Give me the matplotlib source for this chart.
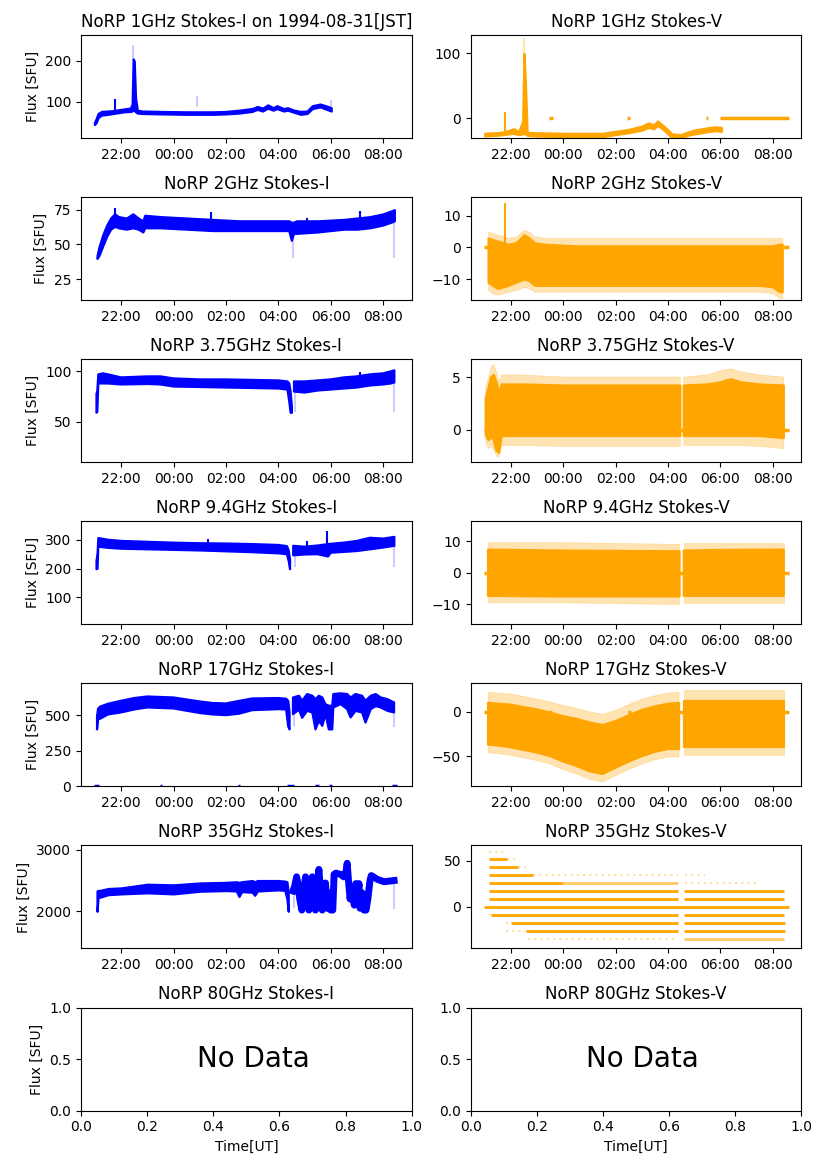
## NoRP quick-look: Stokes I / V for each frequency, 1994-08-31 [JST]

import numpy as np
import matplotlib
matplotlib.use('Agg')
import matplotlib.pyplot as plt
import matplotlib.dates as mdates

nan = np.nan

# ---- time axis: hours after 1994-08-30 00:00 UT ----
base = np.datetime64('1994-08-30T00:00:00')
xlim_h = [20.47, 33.09]

# ---- 1 GHz ----
t_i1  = [20.98, 21.05, 21.12, 21.25, 21.5, 21.7, 21.9, 22.1, 22.35, 22.42, 22.46, 22.5, 22.55, 22.62, 22.8,
         23.5, 24.5, 25.5, 26.0, 26.5, 27.0, 27.2, 27.4, 27.6, 27.8, 27.95, 28.2, 28.35, 28.6, 28.85,
         29.1, 29.3, 29.6, 29.85, 30.02]
lo_i1 = [45, 50, 62, 68, 70, 72, 74, 76, 77, 78, 80, 80, 76, 73, 72, 71, 70, 70, 71, 73, 77, 82, 78, 85, 80,
         84, 78, 80, 75, 70, 72, 84, 88, 82, 78]
hi_i1 = [50, 60, 72, 77, 78, 79, 81, 83, 85, 95, 205, 200, 110, 80, 78, 77, 76, 76, 77, 80, 84, 89, 85, 93, 86,
         91, 84, 86, 80, 77, 78, 91, 95, 90, 86]
sp_i1 = ([21.75], [75], [107])
fa_i1 = ([22.47, 24.9, 30.0], [200, 88, 86], [240, 115, 105])

t_v1  = [21.0, 21.5, 21.7, 21.9, 22.1, 22.3, 22.45, 22.5, 22.55, 22.62, 22.8, 24.0, 25.5, 26.0, 26.5, 27.0,
         27.25, 27.45, 27.6, 27.75, 27.95, 28.15, 28.5, 28.75, 29.0, 29.3, 29.6, 29.8, 30.04]
lo_v1 = [-27, -26, -25, -24, -23, -25, -24, -22, -24, -26, -27, -28, -28, -25, -22, -18, -14, -16, -11, -15,
         -22, -30, -30, -26, -24, -22, -20, -19, -20]
hi_v1 = [-23, -22, -21, -19, -16, -20, -5, 100, 60, -21, -22, -23, -23, -20, -17, -12, -7, -10, -4, -9,
         -16, -24, -25, -21, -18, -16, -14, -13, -14]
sp_v1 = ([21.78], [-20], [9])
fa_v1 = ([22.5], [100], [123])
z0_v1 = [23.47, 26.44, 29.45, 29.97]
z1_v1 = [23.60, 26.56, 29.52, 32.61]

# ---- 2 GHz ----
t_i2  = [21.08, 21.15, 21.3, 21.45, 21.6, 21.75, 21.9, 22.2, 22.45, 22.65, 22.83, 22.9, 23.5, 24.5, 25.5,
         26.5, 27.5, 28.4, 28.5, 28.58, 28.7, 29.5, 30.5, 31.0, 31.5, 32.0, 32.3, 32.43]
lo_i2 = [40, 42, 49, 56, 61, 63, 62, 61, 62, 61, 59, 62, 62, 61, 60, 60, 60, 60, 53, 58, 58, 59, 61, 61, 62,
         64, 66, 67]
hi_i2 = [42, 48, 57, 64, 69, 72, 70, 69, 72, 69, 67, 71, 70, 69, 68, 67, 67, 67, 66, 66, 67, 67, 68, 69, 70,
         72, 74, 75]
sp_i2 = ([21.75, 25.44, 29.1, 31.12], [66, 64, 62, 66], [76, 73, 69, 74])
fa_i2 = ([28.55, 32.42], [40, 40], [55, 67])

t_v2   = [21.13, 21.3, 21.5, 21.7, 21.9, 22.2, 22.5, 22.7, 22.9, 23.3, 24.5, 26.0, 28.0, 30.0, 31.5, 32.0,
          32.25, 32.36]
lo_v2  = [-11, -12, -13, -12.5, -12, -11, -10, -10.5, -12, -12, -12, -12, -12, -12, -12, -12.5, -14, -14]
hi_v2  = [3, 2.5, 2, 1.5, 1, 1.5, 4, 3, 1.5, 1, 0.5, 0.5, 0.5, 0.5, 0.5, 0.5, 1, 1]
olo_v2 = [-13.5, -14.5, -15, -14.5, -14, -13.5, -12.5, -13, -14, -14, -14, -14, -14, -14, -14, -14.5, -16, -16]
ohi_v2 = [5, 4.5, 4, 3.5, 3, 3.5, 5.5, 5, 3.5, 3, 3, 3, 3, 3, 3, 3, 3, 3]
sp_v2 = ([21.78], [-6], [14])

# ---- 3.75 GHz ----
t_i3  = [21.06, 21.09, 21.13, 21.3, 21.5, 22.0, 23.0, 23.5, 24.0, 25.0, 26.0, 27.0, 28.0, 28.35, 28.42,
         28.47, 28.52, 28.56, 28.6, 29.0, 29.5, 30.0, 30.5, 31.0, 31.5, 32.0, 32.3, 32.43]
lo_i3 = [59, 60, 88, 88, 88, 87, 87.5, 87, 85, 84.5, 84, 83.5, 83, 82, 70, 59, 59, nan, 80, 79, 81, 82, 83,
         84, 86, 87, 88, 89]
hi_i3 = [78, 80, 97, 98, 97, 94, 95, 95, 93, 92, 92, 91.5, 91, 90, 88, 80, 65, nan, 90, 90, 91, 92, 94, 95,
         97, 98, 100, 101]
sp_i3 = ([31.12], [88], [99])
fa_i3 = ([28.63, 32.43], [60, 60], [80, 88])

t_v3   = [21.04, 21.15, 21.25, 21.35, 21.45, 21.55, 21.65, 22.5, 24.0, 26.0, 28.0, 28.47, 28.53, 28.6, 29.5,
          30.0, 30.4, 30.8, 31.5, 32.42]
lo_v3  = [-0.5, -1.0, -0.7, -1.0, -2.0, -2.2, -0.6, -0.6, -0.6, -0.6, -0.6, -0.6, nan, -0.6, -0.6, -0.6,
          -0.6, -0.6, -0.6, -0.8]
hi_v3  = [3.0, 4.0, 5.0, 5.2, 4.5, 3.5, 4.3, 4.3, 4.2, 4.2, 4.2, 4.2, nan, 4.2, 4.3, 4.5, 4.8, 4.5, 4.3, 4.2]
olo_v3 = [-1.3, -1.8, -1.6, -1.9, -2.5, -2.6, -1.5, -1.5, -1.6, -1.6, -1.6, -1.6, nan, -1.5, -1.5, -1.5,
          -1.5, -1.5, -1.6, -1.8]
ohi_v3 = [4.0, 5.0, 6.0, 6.2, 5.5, 4.5, 5.2, 5.2, 5.0, 5.0, 5.0, 5.0, nan, 5.0, 5.2, 5.6, 5.8, 5.5, 5.2, 5.0]

# ---- 9.4 GHz ----
t_i4  = [21.06, 21.1, 21.13, 21.5, 22.0, 23.0, 24.0, 25.0, 26.0, 27.0, 28.0, 28.33, 28.4, 28.45, 28.51,
         28.57, 29.0, 29.5, 29.9, 30.0, 30.5, 31.0, 31.5, 32.0, 32.43]
lo_i4 = [198, 200, 276, 272, 269, 267, 265, 263, 260, 257, 253, 250, 225, 198, nan, 246, 249, 250, 242, 255,
         258, 261, 267, 273, 279]
hi_i4 = [227, 250, 306, 300, 296, 293, 290, 288, 287, 285, 282, 278, 262, 230, nan, 279, 276, 280, 285, 286,
         290, 296, 307, 304, 310]
sp_i4 = ([25.3, 29.1, 29.87], [280, 270, 280], [304, 296, 332])
fa_i4 = ([28.62, 32.43], [205, 205], [270, 280])

t_v4   = [21.13, 24.0, 28.0, 28.44, 28.52, 28.6, 30.0, 32.42]
lo_v4  = [-7.3, -7.5, -7.5, -7.5, nan, -7.3, -7.3, -7.3]
hi_v4  = [7.3, 7.0, 6.8, 6.8, nan, 7.0, 7.2, 7.3]
olo_v4 = [-9.5, -9.5, -10, -10, nan, -9.5, -9.5, -9.5]
ohi_v4 = [9.5, 9.5, 9.0, 9.0, nan, 9.5, 9.5, 9.5]

# ---- 17 GHz ----
t_i5  = [21.08, 21.12, 21.2, 21.5, 22.0, 22.5, 23.0, 24.0, 25.0, 25.5, 26.0, 26.5, 27.0, 28.0, 28.3, 28.38,
         28.43, 28.5, 28.56, 28.79, 28.91, 29.1, 29.3, 29.42, 29.55, 29.68, 29.8, 29.93, 30.06, 30.1, 30.38,
         30.63, 30.76, 30.95, 31.2, 31.33, 31.53, 31.72, 31.91, 32.17, 32.42]
lo_i5 = [400, 470, 475, 505, 519, 540, 554, 547, 515, 505, 500, 510, 535, 542, 540, 420, 400, nan, 507, 538,
         481, 530, 519, 400, 460, 425, 507, 400, 400, 554, 577, 542, 484, 530, 519, 448, 542, 563, 554, 530,
         519]
hi_i5 = [490, 545, 560, 580, 601, 620, 631, 624, 596, 585, 582, 600, 617, 620, 615, 600, 520, nan, 624, 636,
         601, 648, 636, 612, 636, 624, 577, 566, 566, 648, 653, 648, 624, 648, 636, 601, 636, 648, 624, 612,
         589]
fa_i5 = ([28.6, 32.43], [425, 420], [500, 520])
z0_i5 = [20.98, 23.47, 26.45, 28.34, 29.42, 29.93, 32.36]
z1_i5 = [21.17, 23.56, 26.53, 28.60, 29.55, 30.06, 32.55]

t_v5   = [21.13, 21.5, 22.0, 22.5, 23.0, 23.5, 24.0, 24.5, 25.0, 25.5, 26.0, 26.5, 27.0, 27.5, 28.0, 28.42,
          28.51, 28.6, 29.5, 30.5, 31.5, 32.42]
lo_v5  = [-37, -38, -40, -43, -46, -50, -56, -61, -67, -70, -63, -56, -50, -45, -42, -42, nan, -40, -40,
          -40, -40, -40]
hi_v5  = [10, 9, 8, 5, 2.6, -1, -5, -8, -12, -15, -10.5, -4, 2, 6, 9, 10, nan, 12, 12, 12, 12, 12]
olo_v5 = [-46, -47, -49, -52, -55, -59, -65, -70, -76, -79, -72, -65, -59, -54, -51, -51, nan, -49, -49,
          -49, -49, -49]
ohi_v5 = [22, 21, 20, 17, 14, 11, 7, 4, 0, -3, 1.5, 8, 14, 18, 21, 22, nan, 24, 24, 24, 24, 24]

# ---- 35 GHz ----
t_i6  = [21.08, 21.12, 21.2, 21.5, 22.0, 23.0, 24.0, 25.0, 26.0, 26.4, 26.5, 26.6, 27.0, 27.1, 27.2, 28.0,
         28.25, 28.33, 28.38]
lo_i6 = [2000, 2230, 2230, 2270, 2283, 2300, 2283, 2326, 2337, 2330, 2240, 2320, 2310, 2260, 2330, 2348,
         2340, 2200, 2000]
hi_i6 = [2330, 2340, 2340, 2370, 2380, 2440, 2430, 2460, 2470, 2480, 2470, 2480, 2500, 2480, 2500, 2500,
         2490, 2480, 2300]
# after the 04:30 break the trace swings quickly
tr_t6 = [28.56, 28.62, 28.7, 28.75, 28.82, 28.9, 28.96, 29.04, 29.1, 29.17, 29.24, 29.3, 29.36, 29.42, 29.48,
         29.55, 29.62, 29.68, 29.74, 29.8, 29.87, 29.93, 30.0, 30.08, 30.13, 30.2, 30.38, 30.5, 30.57, 30.63,
         30.68, 30.74, 30.82, 30.9, 30.96, 31.02, 31.08, 31.12, 31.2, 31.27, 31.35, 31.42, 31.5, 31.55, 31.78,
         32.04, 32.42]
tr_v6 = [2330, 2400, 2560, 2450, 2200, 2020, 2300, 2560, 2400, 2020, 2400, 2560, 2300, 2020, 2400, 2680,
         2300, 2020, 2400, 2460, 2050, 2300, 2020, 2020, 2600, 2620, 2600, 2560, 2600, 2780, 2500, 2200,
         2400, 2100, 2450, 2200, 2450, 2050, 2300, 2020, 2020, 2200, 2500, 2580, 2520, 2480, 2500]
fa_i6 = ([28.6, 32.43], [2050, 2040], [2250, 2450])

# 35 GHz Stokes-V is quantised: level, start, end, density (2 dense, 1 medium, 0 sparse)
lev_v6 = [59.8, 51.8, 51.8, 43.4, 43.4, 34.6, 34.6, 34.6, 25.9, 25.9, 25.9, 17.1, 17.1, 8.4, 8.4, 0.0,
          -9.1, -9.1, -9.1, -17.9, -17.9, -17.9, -26.6, -26.6, -26.6, -35.4, -35.4]
t0_v6  = [21.17, 21.17, 21.87, 21.17, 22.26, 21.17, 22.83, 28.63, 21.17, 24.0, 28.63, 21.17, 28.6, 21.17,
          28.6, 20.98, 21.17, 21.25, 28.6, 21.8, 22.0, 28.6, 21.8, 22.57, 28.6, 22.64, 28.6]
t1_v6  = [21.87, 21.87, 22.26, 22.26, 22.57, 22.83, 28.38, 29.4, 24.0, 28.38, 31.5, 28.38, 32.42, 28.38,
          32.42, 32.62, 21.25, 28.38, 32.42, 22.0, 28.38, 32.45, 22.57, 28.38, 32.45, 28.38, 32.42]
den_v6 = [0, 2, 0, 2, 0, 2, 0, 0, 2, 1, 0, 2, 2, 2, 2, 2, 0, 2, 2, 0, 2, 2, 0, 2, 2, 0, 1]

# zero-flag samples shared by the V channels
z0_v = [20.98, 23.47, 26.47, 28.42, 29.47, 32.38]
z1_v = [21.15, 23.58, 26.58, 28.60, 29.53, 32.62]

ylims_i = [(12, 263), (10, 84), (10, 112), (7, 364), (0, 723), (1396, 3070)]
ylims_v = [(-30.4, 128), (-16.7, 15.9), (-3.1, 6.7), (-16.3, 16.25), (-84, 31.9), (-45.6, 67)]
freqs = ['1GHz', '2GHz', '3.75GHz', '9.4GHz', '17GHz', '35GHz', '80GHz']


def hrs(h):
    return base + (np.asarray(h, dtype=float) * 3600).astype(np.int64).astype('timedelta64[s]')


def band(ax, t, lo, hi, c, a=1.0):
    # edge width stands in for the marker size of the raw samples
    ax.fill_between(hrs(t), np.array(lo, float), np.array(hi, float), color=c, alpha=a,
                    lw=1.6 if a == 1.0 else 0.5, ec=c)


def spikes(ax, s, c, a=1.0, lw=1.5):
    ax.vlines(hrs(s[0]), s[1], s[2], color=c, alpha=a, lw=lw)


def zeros(ax, t0, t1, c):
    ax.hlines(np.zeros(len(t0)), hrs(t0), hrs(t1), color=c, lw=2.5, zorder=1)


blue = 'blue'
orng = 'orange'

fig, axs = plt.subplots(7, 2, figsize=(8.27, 11.69), dpi=100)
plt.subplots_adjust(left=0.098, right=0.969, top=0.970, bottom=0.050, hspace=0.573, wspace=0.179)

# Stokes I
ax = axs[0, 0]
band(ax, t_i1, lo_i1, hi_i1, blue); spikes(ax, sp_i1, blue); spikes(ax, fa_i1, blue, 0.2)
ax = axs[1, 0]
band(ax, t_i2, lo_i2, hi_i2, blue); spikes(ax, sp_i2, blue); spikes(ax, fa_i2, blue, 0.2)
ax = axs[2, 0]
band(ax, t_i3, lo_i3, hi_i3, blue); spikes(ax, sp_i3, blue); spikes(ax, fa_i3, blue, 0.2)
ax = axs[3, 0]
band(ax, t_i4, lo_i4, hi_i4, blue); spikes(ax, sp_i4, blue); spikes(ax, fa_i4, blue, 0.2)
ax = axs[4, 0]
band(ax, t_i5, lo_i5, hi_i5, blue); spikes(ax, fa_i5, blue, 0.2); zeros(ax, z0_i5, z1_i5, blue)
ax = axs[5, 0]
band(ax, t_i6, lo_i6, hi_i6, blue); spikes(ax, fa_i6, blue, 0.2)
ax.plot(hrs(tr_t6), tr_v6, color=blue, lw=5, solid_joinstyle='round')

# Stokes V
ax = axs[0, 1]
band(ax, t_v1, lo_v1, hi_v1, orng); spikes(ax, sp_v1, orng); spikes(ax, fa_v1, orng, 0.3)
zeros(ax, z0_v1, z1_v1, orng)
ax = axs[1, 1]
zeros(ax, z0_v, z1_v, orng)
band(ax, t_v2, olo_v2, ohi_v2, orng, 0.3); band(ax, t_v2, lo_v2, hi_v2, orng); spikes(ax, sp_v2, orng)
ax = axs[2, 1]
zeros(ax, z0_v, z1_v, orng)
band(ax, t_v3, olo_v3, ohi_v3, orng, 0.3); band(ax, t_v3, lo_v3, hi_v3, orng)
ax = axs[3, 1]
zeros(ax, z0_v, z1_v, orng)
band(ax, t_v4, olo_v4, ohi_v4, orng, 0.3); band(ax, t_v4, lo_v4, hi_v4, orng)
ax = axs[4, 1]
zeros(ax, z0_v, z1_v, orng)
band(ax, t_v5, olo_v5, ohi_v5, orng, 0.3); band(ax, t_v5, lo_v5, hi_v5, orng)
ax = axs[5, 1]
for lv, a0, a1, d in zip(lev_v6, t0_v6, t1_v6, den_v6):
    if d == 2:
        ax.hlines(lv, hrs(a0), hrs(a1), color=orng, lw=2.0)
    elif d == 1:
        ax.hlines(lv, hrs(a0), hrs(a1), color=orng, lw=2.0, alpha=0.6)
    else:
        ax.hlines(lv, hrs(a0), hrs(a1), color=orng, lw=1.5, alpha=0.35, linestyles=(0, (1, 2)))

for i in range(6):
    for j in range(2):
        ax = axs[i, j]
        ax.set_xlim(hrs(xlim_h[0]), hrs(xlim_h[1]))
        ax.xaxis.set_major_locator(mdates.HourLocator(byhour=[0, 2, 4, 6, 8, 22]))
        ax.xaxis.set_major_formatter(mdates.DateFormatter('%H:%M'))
    axs[i, 0].set_ylim(ylims_i[i])
    axs[i, 1].set_ylim(ylims_v[i])
    axs[i, 0].set_ylabel('Flux [SFU]')
    axs[i, 0].set_title('NoRP ' + freqs[i] + ' Stokes-I')
    axs[i, 1].set_title('NoRP ' + freqs[i] + ' Stokes-V')

axs[0, 0].set_title('NoRP 1GHz Stokes-I on 1994-08-31[JST]')
axs[5, 0].set_yticks([2000, 3000])
axs[4, 0].set_yticks([0, 250, 500])
axs[2, 0].set_yticks([50, 100])

# 80 GHz: nothing recorded
for j, s in enumerate(['I', 'V']):
    ax = axs[6, j]
    ax.set_title('NoRP 80GHz Stokes-' + s)
    ax.text(0.35, 0.5, 'No Data', fontsize=20, ha='left', va='center', transform=ax.transAxes)
    ax.set_xlabel('Time[UT]')
axs[6, 0].set_ylabel('Flux [SFU]')

plt.savefig('out.png', dpi=100)
